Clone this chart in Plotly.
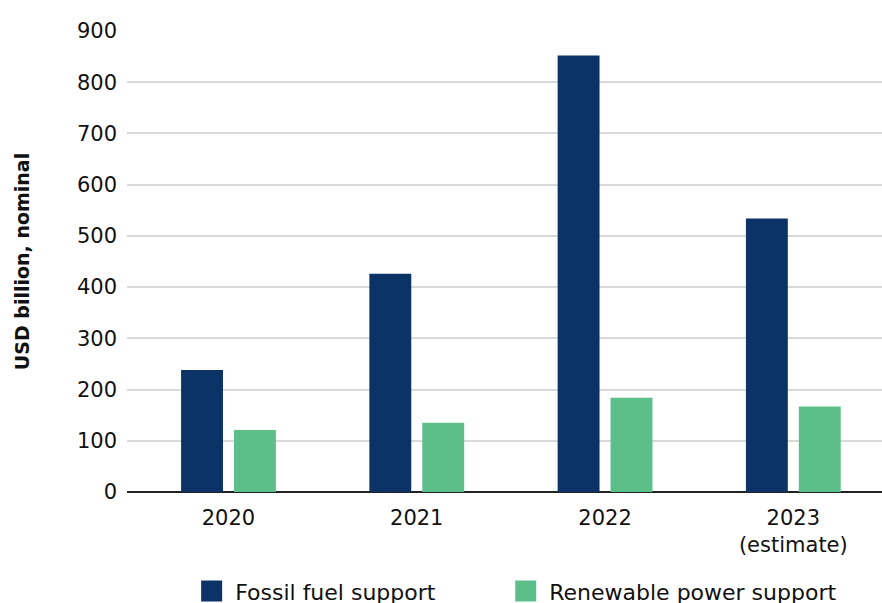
import plotly.graph_objects as go

categories = ["2020", "2021", "2022", "2023<br>(estimate)"]
fossil = [238, 426, 852, 534]
renewable = [121, 135, 184, 167]
series_names = ["Fossil fuel support", "Renewable power support"]
yticks = [0, 100, 200, 300, 400, 500, 600, 700, 800, 900]

FONT = "DejaVu Sans, sans-serif"
COLORS = ["#0b3366", "#5cbf8a"]

fig = go.Figure()
for name, vals, col in zip(series_names, [fossil, renewable], COLORS):
    fig.add_trace(go.Bar(x=categories, y=vals, name=name, showlegend=False,
                         marker=dict(color=col, line=dict(width=0))))
# legend entries with larger square icons, one legend each
for name, col, lg in zip(series_names, COLORS, ["legend", "legend2"]):
    fig.add_trace(go.Scatter(x=[None], y=[None], mode="markers", name=name, legend=lg,
                             marker=dict(symbol="square", size=16, color=col,
                                         line=dict(color=col, width=5))))

leg_common = dict(orientation="h", y=-0.215, yanchor="middle", xanchor="left",
                  font=dict(size=22, family=FONT), itemwidth=37, itemsizing="trace",
                  bgcolor="rgba(0,0,0,0)")

fig.update_layout(
    width=882, height=603,
    margin=dict(l=127, r=0, t=31, b=111, autoexpand=False),
    paper_bgcolor="white", plot_bgcolor="white",
    barmode="group", bargap=0.438, bargroupgap=0.208,
    font=dict(family=FONT, color="#111111", size=21),
    showlegend=True,
    legend=dict(x=0.081, **leg_common),
    legend2=dict(x=0.497, **leg_common),
    xaxis=dict(showgrid=False, ticks="", tickfont=dict(size=21, family=FONT),
               range=[-0.539, 3.471], ticklabelstandoff=11,
               showline=False, automargin=False),
    yaxis=dict(range=[0, 900], tickvals=yticks, showgrid=True, gridcolor="#d9d9d9",
               gridwidth=1.5, zeroline=True, zerolinecolor="#222222", zerolinewidth=1.5,
               ticks="", ticklabelstandoff=9, automargin=False,
               tickfont=dict(size=21, family=FONT),
               title=dict(text="<b>USD billion, nominal</b>", font=dict(size=19, family=FONT),
                          standoff=42)),
)

fig.write_html("out.html")
